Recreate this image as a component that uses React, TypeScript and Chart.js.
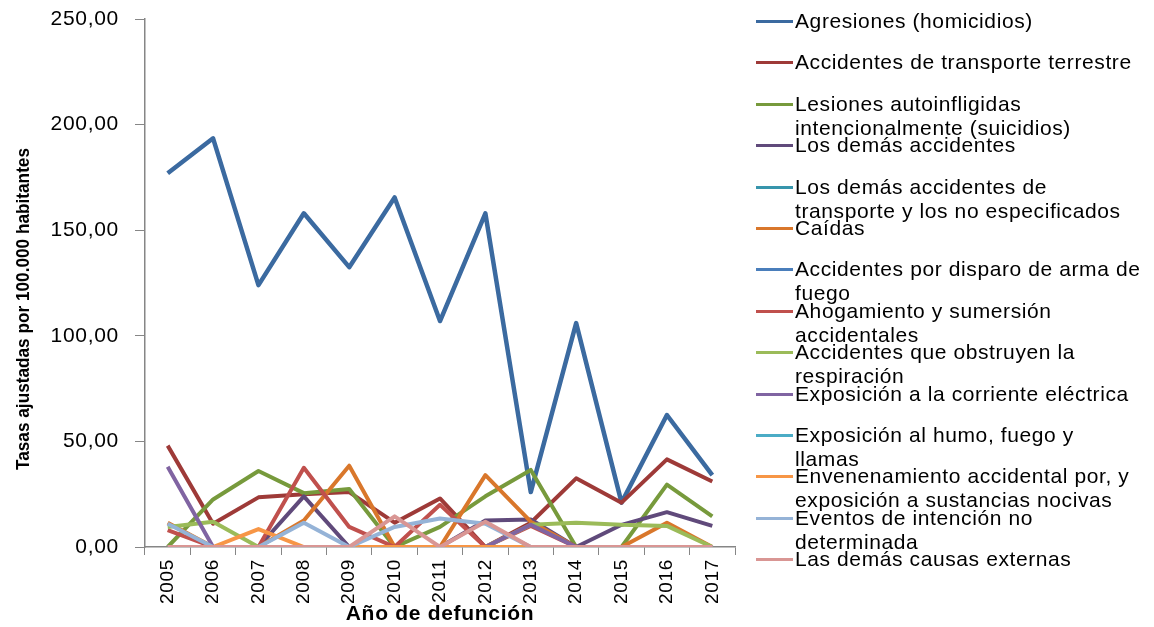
import React, { useEffect, useRef } from "react";
import { Chart, registerables } from "chart.js";

Chart.register(...registerables);

const years = ["2005", "2006", "2007", "2008", "2009", "2010", "2011", "2012", "2013", "2014", "2015", "2016", "2017"];

const agresiones = [177, 193.5, 124, 158, 132.5, 165.5, 107, 158, 26, 106, 21, 62.5, 34];
const transporteTerrestre = [48, 11, 23.5, 25, 26, 11.5, 23, 0, 11.5, 32.5, 21, 41.5, 31];
const suicidios = [0, 22.5, 36, 25.5, 27.5, 0, 9.5, 24, 36.5, 0, 0, 29.5, 14.5];
const demasAccidentes = [0, 0, 0, 24, 0, 0, 0, 12.5, 13, 0, 10.5, 16.5, 10];
const demasTransporte = [0, 0, 0, 0, 0, 0, 0, 0, 0, 0, 0, 0, 0];
const caidas = [11.5, 0, 0, 12.5, 38.5, 0, 0, 34, 12, 0, 0, 11.5, 0];
const disparo = [0, 0, 0, 0, 0, 0, 0, 0, 0, 0, 0, 0, 0];
const ahogamiento = [8, 0, 0, 37.5, 9.5, 0, 20, 0, 10, 0, 0, 0, 0];
const obstruyen = [9.5, 12, 0, 0, 0, 0, 0, 0, 10.5, 11.5, 10.5, 10, 0];
const corriente = [38, 0, 0, 0, 0, 0, 0, 0, 10.5, 0, 0, 0, 0];
const humo = [0, 0, 0, 0, 0, 0, 0, 0, 0, 0, 0, 0, 0];
const envenenamiento = [0, 0, 8.5, 0, 0, 0, 0, 0, 0, 0, 0, 0, 0];
const eventos = [11, 0, 0, 11.5, 0, 9.5, 13.5, 11, 0, 0, 0, 0, 0];
const demasCausas = [0, 0, 0, 0, 0, 14.5, 0, 12, 0, 0, 0, 0, 0];

const seriesNames = [
  "Agresiones (homicidios)",
  "Accidentes de transporte terrestre",
  "Lesiones autoinfligidas intencionalmente (suicidios)",
  "Los demás accidentes",
  "Los demás accidentes de transporte y los no especificados",
  "Caídas",
  "Accidentes por disparo de arma de fuego",
  "Ahogamiento y sumersión accidentales",
  "Accidentes que obstruyen la respiración",
  "Exposición a la corriente eléctrica",
  "Exposición al humo, fuego y llamas",
  "Envenenamiento accidental por, y exposición a sustancias nocivas",
  "Eventos de intención no determinada",
  "Las demás causas externas",
];

const seriesValues = [
  agresiones, transporteTerrestre, suicidios, demasAccidentes, demasTransporte, caidas, disparo,
  ahogamiento, obstruyen, corriente, humo, envenenamiento, eventos, demasCausas,
];

const seriesColors = [
  "#3B6AA0", "#9E3A38", "#779A3C", "#604A7B", "#3795AC", "#D9772B", "#4A7EBB",
  "#C0504D", "#9BBB59", "#8064A2", "#4BACC6", "#F79646", "#95B3D7", "#D99694",
];

const yTicks = [0, 50, 100, 150, 200, 250];
const yTitle = "Tasas ajustadas por 100.000 habitantes";
const xTitle = "Año de defunción";

const FONT = '"Liberation Sans", Arial, sans-serif';
const AXIS_GRAY = "#868686";

const textPlugin = {
  id: "textPlugin",
  beforeUpdate(chart: any) {
    chart.ctx.letterSpacing = "0.7px";
  },
  beforeDraw(chart: any) {
    chart.ctx.letterSpacing = "0.7px";
  },
  afterDraw(chart: any) {
    const ctx = chart.ctx;
    const ca = chart.chartArea;
    ctx.save();
    ctx.letterSpacing = "0px";
    ctx.font = 'bold 19px "Liberation Sans Narrow", "Arial Narrow", "Liberation Sans", sans-serif';
    const w = ctx.measureText(yTitle).width;
    const target = 322;
    ctx.translate(ca.left - 121, ca.top + 290);
    ctx.rotate(-Math.PI / 2);
    ctx.scale(target / w, 1);
    ctx.textAlign = "center";
    ctx.textBaseline = "middle";
    ctx.fillStyle = "#000";
    ctx.fillText(yTitle, 0, 0);
    ctx.restore();
  },
};

export default function App() {
  const canvasRef = useRef<HTMLCanvasElement | null>(null);

  useEffect(() => {
    if (!canvasRef.current) return;
    const n = seriesValues.length;
    const chart = new Chart(canvasRef.current, {
      type: "line",
      data: {
        labels: years,
        datasets: seriesValues.map((vals, i) => ({
          label: seriesNames[i],
          data: vals,
          borderColor: seriesColors[i],
          backgroundColor: seriesColors[i],
          borderWidth: i === 0 ? 4.5 : 4,
          pointRadius: 0,
          tension: 0,
          fill: false,
          order: n - 1 - i,
          borderJoinStyle: "round" as const,
        })),
      },
      options: {
        responsive: false,
        animation: false,
        events: [],
        layout: { padding: { top: 19, right: 419, bottom: 0, left: 0 } },
        plugins: {
          legend: { display: false },
          tooltip: { enabled: false },
          title: { display: false },
        },
        scales: {
          x: {
            type: "category",
            offset: true,
            afterFit: (axis: any) => {
              axis.height = 80;
              axis.paddingLeft = 0;
              axis.paddingRight = 0;
            },
            grid: {
              offset: true,
              drawOnChartArea: false,
              drawTicks: true,
              tickLength: 8,
              color: AXIS_GRAY,
            },
            border: { display: true, color: AXIS_GRAY, width: 1.5 },
            ticks: {
              autoSkip: false,
              minRotation: 90,
              maxRotation: 90,
              padding: 4,
              color: "#000",
              font: { family: FONT, size: 19 },
            },
            title: {
              display: true,
              text: xTitle,
              color: "#000",
              padding: { top: 0, bottom: 0 },
              font: { family: FONT, size: 21, weight: "bold" },
            },
          },
          y: {
            min: 0,
            max: 250,
            afterFit: (axis: any) => {
              axis.width = 145;
              axis.paddingTop = 0;
              axis.paddingBottom = 0;
            },
            afterBuildTicks: (axis: any) => {
              axis.ticks = yTicks.map((v) => ({ value: v }));
            },
            grid: {
              drawOnChartArea: false,
              drawTicks: true,
              tickLength: 10,
              color: AXIS_GRAY,
            },
            border: { display: true, color: AXIS_GRAY, width: 1.5 },
            ticks: {
              padding: 16,
              color: "#000",
              font: { family: FONT, size: 21 },
              callback: (v: any) => Number(v).toFixed(2).replace(".", ","),
            },
          },
        },
      },
      plugins: [textPlugin],
    });
    return () => chart.destroy();
  }, []);

  return (
    <div style={{ position: "absolute", left: 0, top: 0, width: 1154, height: 627, background: "#fff", overflow: "hidden" }}>
      <canvas ref={canvasRef} width={1154} height={627} style={{ position: "absolute", left: 0, top: 0 }} />
      {seriesNames.map((name, i) => {
        const yc = 21.5 + 41.4 * i;
        return (
          <React.Fragment key={name}>
            <div
              style={{
                position: "absolute",
                left: 756,
                top: yc - 1.5,
                width: 37,
                height: 3,
                background: seriesColors[i],
              }}
            />
            <div
              style={{
                position: "absolute",
                left: 795,
                top: yc - 12.5,
                width: 347,
                fontFamily: FONT,
                fontSize: 21,
                lineHeight: "24px",
                letterSpacing: "0.6px",
                color: "#000",
                whiteSpace: "normal",
              }}
            >
              {name}
            </div>
          </React.Fragment>
        );
      })}
    </div>
  );
}
